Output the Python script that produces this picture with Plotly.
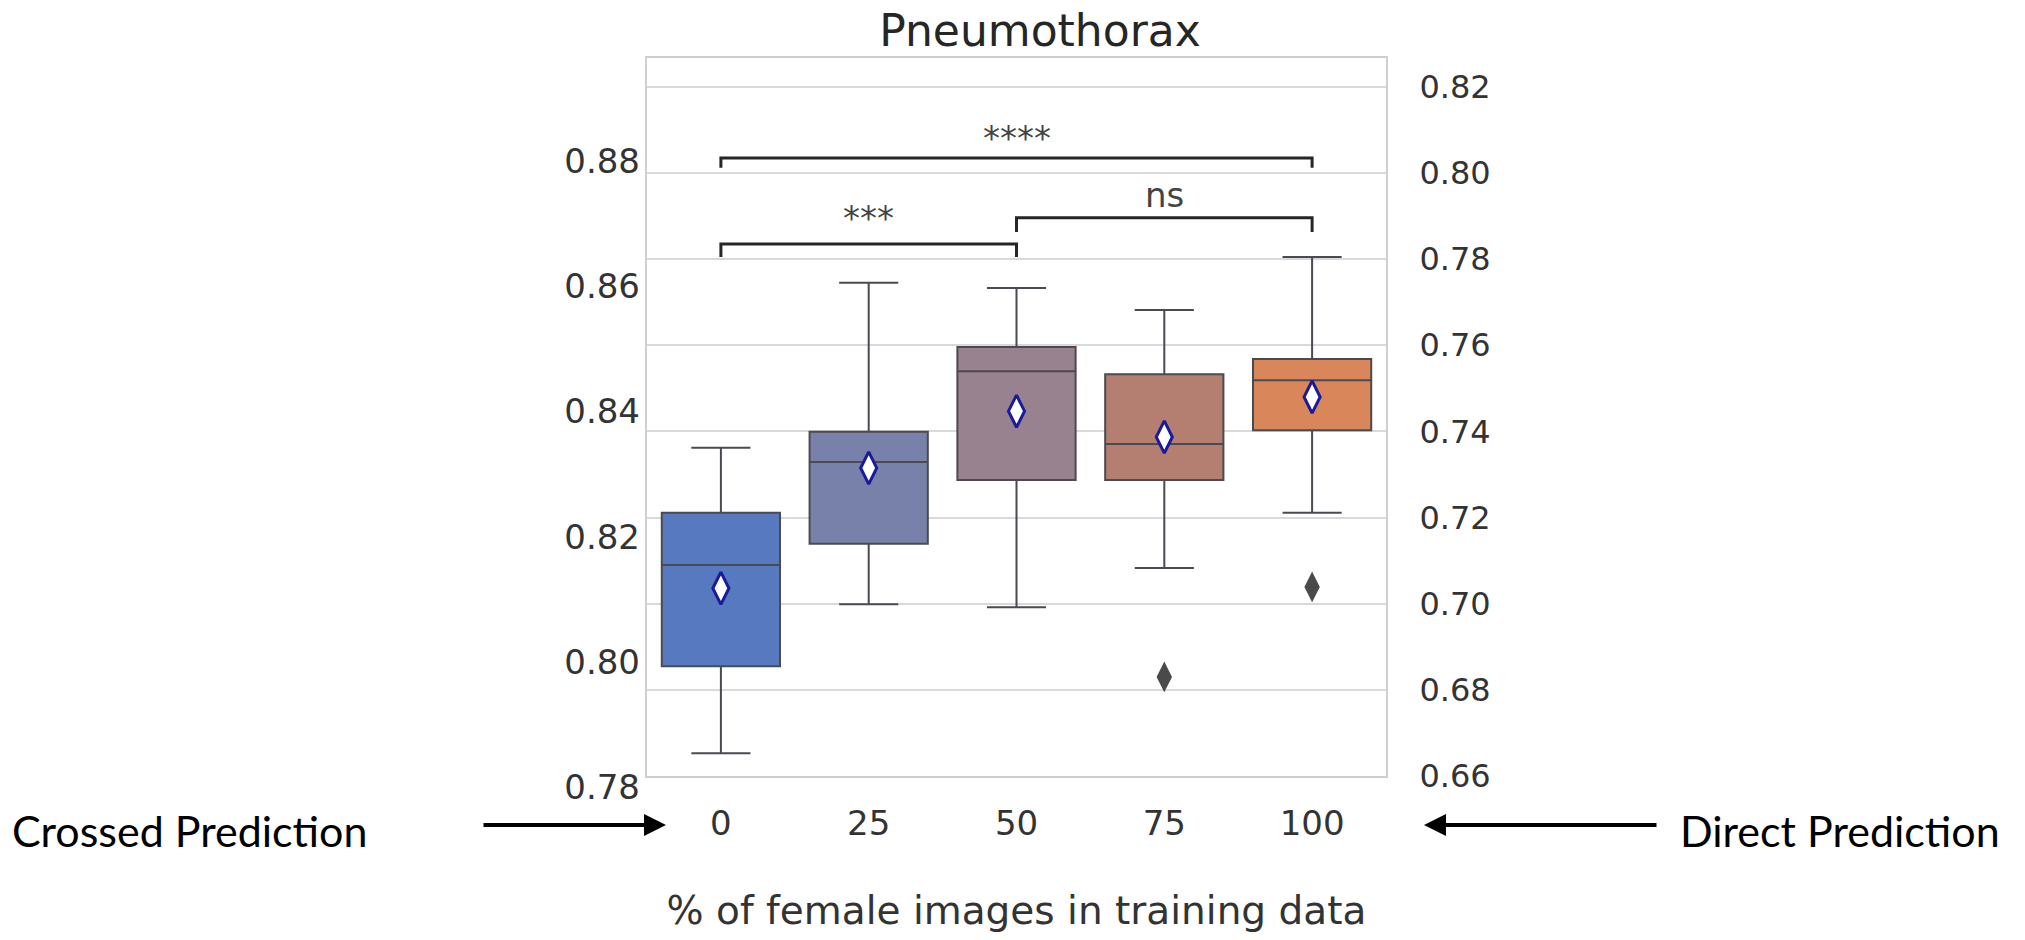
import plotly.graph_objects as go

# ---------------- data ----------------
categories = ["0", "25", "50", "75", "100"]
q1 = [0.6855, 0.7139, 0.7287, 0.7287, 0.7403]
medians = [0.7090, 0.7329, 0.7540, 0.7371, 0.7519]
q3 = [0.7211, 0.7399, 0.7596, 0.7533, 0.7568]
lower_whisker = [0.6653, 0.6999, 0.6992, 0.7083, 0.7211]
upper_whisker = [0.7362, 0.7745, 0.7733, 0.7682, 0.7805]
means = [0.7036, 0.7315, 0.7447, 0.7387, 0.7480]
outlier_x = ["75", "100"]
outlier_y = [0.6830, 0.7039]
box_colors = ["#5779bf", "#7781a9", "#99828f", "#b47f70", "#d9875a"]

right_ticks = [0.66, 0.68, 0.70, 0.72, 0.74, 0.76, 0.78, 0.80, 0.82]
left_ticks = [0.78, 0.80, 0.82, 0.84, 0.86, 0.88]

# significance brackets: start, end, bar height, drop, label, label height
bracket_start = ["0", "0", "50"]
bracket_end = ["100", "50", "100"]
bracket_y = [0.8035, 0.7835, 0.7896]
bracket_drop = [0.0023, 0.0030, 0.0033]
bracket_label = ["****", "***", "ns"]
bracket_label_y = [0.8082, 0.7895, 0.7950]

FONT = "DejaVu Sans"
W, H = 2025, 940
PX_L, PX_R, PX_T, PX_B = 647, 1386, 58, 776
L, R, T, B = PX_L, W - PX_R, PX_T, H - PX_B
PW, PH = PX_R - PX_L, PX_B - PX_T


def px(x):
    return (x - PX_L) / PW


def py(y):
    return (PX_B - y) / PH


fig = go.Figure()

for i, c in enumerate(categories):
    fig.add_trace(go.Box(
        x=[c], q1=[q1[i]], median=[medians[i]], q3=[q3[i]],
        lowerfence=[lower_whisker[i]], upperfence=[upper_whisker[i]],
        fillcolor=box_colors[i], line=dict(color="#4a4a52", width=2),
        width=0.8, whiskerwidth=0.5, boxpoints=False, showlegend=False,
        hoverinfo="skip",
    ))

fig.add_trace(go.Scatter(
    x=outlier_x, y=outlier_y, mode="markers", showlegend=False,
    marker=dict(symbol="diamond-tall", size=22, color="#4a4a4a",
                line=dict(width=0)),
    hoverinfo="skip",
))

fig.add_trace(go.Scatter(
    x=categories, y=means, mode="markers", showlegend=False,
    marker=dict(symbol="diamond-tall", size=23, color="white",
                line=dict(color="#1a1a9c", width=3)),
    hoverinfo="skip",
))

for a, b, y, d in zip(bracket_start, bracket_end, bracket_y, bracket_drop):
    fig.add_trace(go.Scatter(
        x=[a, a, b, b], y=[y - d, y, y, y - d], mode="lines",
        line=dict(color="#262626", width=3), showlegend=False,
        hoverinfo="skip",
    ))

for a, b, lab, ly in zip(bracket_start, bracket_end, bracket_label, bracket_label_y):
    xm = (categories.index(a) + categories.index(b)) / 2
    fig.add_annotation(x=xm, y=ly, xref="x", yref="y", text=lab,
                       showarrow=False, yanchor="middle",
                       font=dict(family=FONT, size=34, color="#444444"))

# invisible trace to anchor the left axis
fig.add_trace(go.Scatter(x=[categories[0]], y=[left_ticks[0]], yaxis="y2",
                         mode="markers", marker=dict(opacity=0),
                         showlegend=False, hoverinfo="skip"))

fig.update_layout(
    width=W, height=H,
    margin=dict(l=L, r=R, t=T, b=B, pad=0),
    paper_bgcolor="white", plot_bgcolor="white",
    title=dict(text="Pneumothorax", x=1040 / W, xanchor="center",
               y=1 - 31 / H, yanchor="middle",
               font=dict(family=FONT, size=44, color="#262626")),
    xaxis=dict(type="category", categoryorder="array",
               categoryarray=categories, range=[-0.5, 4.5],
               showgrid=False, zeroline=False,
               showline=True, mirror=True, linecolor="#cfcfcf", linewidth=2,
               ticks="", ticklabelstandoff=16,
               tickfont=dict(family=FONT, size=34, color="#333333"),
               title=dict(text="% of female images in training data",
                          standoff=55,
                          font=dict(family=FONT, size=39, color="#333333"))),
    yaxis=dict(side="right", range=[0.66, 0.8267],
               tickvals=right_ticks,
               ticktext=[f"{v:.2f}" for v in right_ticks],
               showgrid=True, gridcolor="#d9d9d9", gridwidth=2,
               zeroline=False, showline=True, mirror=True,
               linecolor="#cfcfcf", linewidth=2, ticks="",
               ticklabelstandoff=25,
               tickfont=dict(family=FONT, size=32, color="#333333")),
    yaxis2=dict(overlaying="y", side="left", range=[0.7799, 0.8945],
                tickvals=left_ticks,
                ticktext=[f"{v:.2f}" for v in left_ticks],
                showgrid=False, zeroline=False, showline=False,
                ticks="", ticklabelstandoff=6, ticklabelshift=12,
                tickfont=dict(family=FONT, size=34, color="#333333")),
)

# side labels with arrows (positions converted from figure pixels to plot-paper units)
fig.add_annotation(x=px(189), y=py(830), xref="paper", yref="paper",
                   text="Crossed Prediction", showarrow=False,
                   xanchor="center", yanchor="middle",
                   font=dict(family="Lato", size=43, color="black"))
fig.add_annotation(x=px(1840), y=py(830), xref="paper", yref="paper",
                   text="Direct Prediction", showarrow=False,
                   xanchor="center", yanchor="middle",
                   font=dict(family="Lato", size=43, color="black"))
fig.add_annotation(x=px(666), y=py(825), xref="paper", yref="paper",
                   text="", showarrow=True, axref="pixel", ayref="pixel",
                   ax=-184, ay=0, arrowhead=2, arrowsize=1.1,
                   arrowwidth=4, arrowcolor="black")
fig.add_annotation(x=px(1424), y=py(825), xref="paper", yref="paper",
                   text="", showarrow=True, axref="pixel", ayref="pixel",
                   ax=234, ay=0, arrowhead=2, arrowsize=1.1,
                   arrowwidth=4, arrowcolor="black")

fig.write_html("out.html")
